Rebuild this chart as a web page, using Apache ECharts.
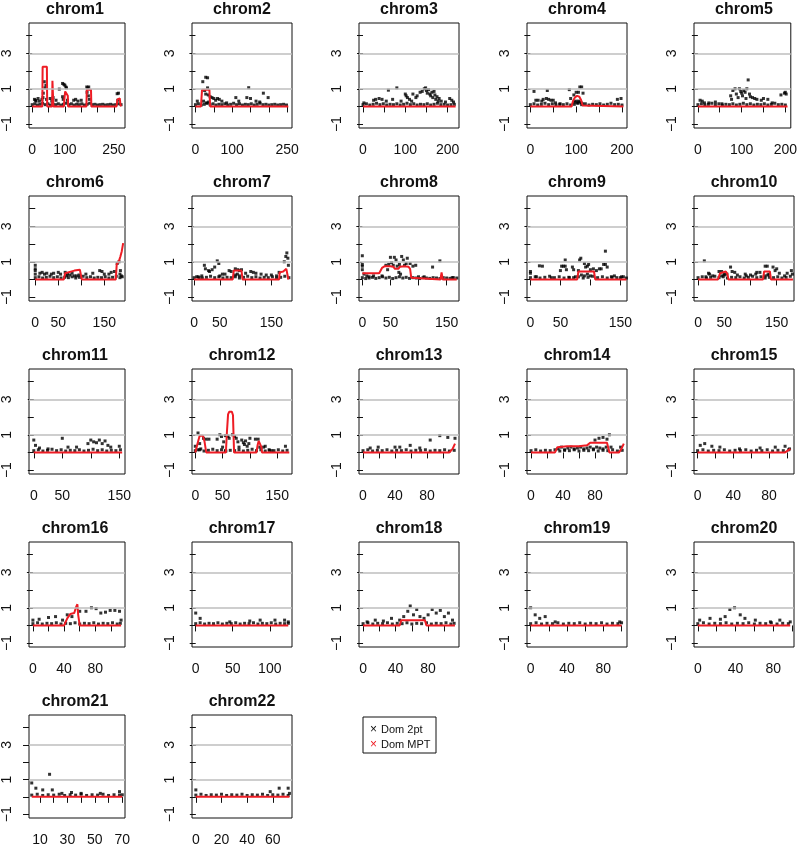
<!DOCTYPE html>
<html><head><meta charset="utf-8">
<script src="https://cdn.jsdelivr.net/npm/echarts@6/dist/echarts.min.js"></script>
<style>html,body{margin:0;padding:0;background:#fff}#c{width:800px;height:847px}</style>
</head><body><div id="c"></div>
<script>
const chromNames = ['chrom1','chrom2','chrom3','chrom4','chrom5','chrom6','chrom7','chrom8','chrom9','chrom10','chrom11','chrom12','chrom13','chrom14','chrom15','chrom16','chrom17','chrom18','chrom19','chrom20','chrom21','chrom22'];

const xAxisMin = [-9.7,-9.4,-9.5,-7.3,-8.9,-13.6,-4,-5.9,-5.7,-7.7,-8.4,-6,-5,-5,-4,-5,-5,-5,-4,-4,2,-3];
const xAxisMax = [284,263,227,211,212.5,195,190,172,161,183,160,177,120,120,108,118,130,118,106,102,72,75];
const xTickValues = [
 [0,50,100,150,200,250],[0,50,100,150,200,250],[0,50,100,150,200],[0,50,100,150,200],[0,50,100,150,200],
 [0,50,100,150],[0,50,100,150],[0,50,100,150],[0,50,100,150],[0,50,100,150],
 [0,50,100,150],[0,50,100,150],[0,20,40,60,80,100],[0,20,40,60,80,100],[0,20,40,60,80,100],
 [0,20,40,60,80,100],[0,50,100],[0,20,40,60,80,100],[0,20,40,60,80,100],[0,20,40,60,80,100],
 [10,20,30,40,50,60,70],[0,20,40,60]
];
const xTickLabels = [
 [0,100,250],[0,100,250],[0,100,200],[0,100,200],[0,100,200],
 [0,50,150],[0,50,150],[0,50,150],[0,50,150],[0,50,150],
 [0,50,150],[0,50,150],[0,40,80],[0,40,80],[0,40,80],
 [0,40,80],[0,50,100],[0,40,80],[0,40,80],[0,40,80],
 [10,30,50,70],[0,20,40,60]
];
const yTickValues = [-1,0,1,2,3,4];
const yTickLabels = [-1,1,3];
const refLines = [1,3];

// Dom 2pt (black crosses)
const dom2pt_chrom1 = [[7,0.4],[10,0.35],[12,0.3],[18,0.45],[22,0.3],[30,0.4],[33,0.5],[34,0.75],[37,1.4],[39,1.05],[42,1.2],[44,0.4],[55,0.45],[60,0.3],[64,0.5],[73,0.35],[83,0.98],[93,1.3],[97,1.25],[100,1.2],[103,1.1],[105,1.05],[93,0.55],[95,0.4],[108,0.35],[127,0.35],[133,0.4],[140,0.3],[150,0.35],[167,1.1],[170,1.05],[173,1.1],[168,0.8],[172,0.6],[175,0.4],[260,0.72],[264,0.75],[262,0.35],
 [0,.1],[8,.15],[16,.08],[24,.12],[32,.18],[40,.1],[48,.15],[56,.08],[64,.12],[72,.1],[80,.15],[88,.08],[96,.12],[104,.18],[112,.1],[120,.15],[128,.08],[136,.12],[144,.1],[152,.15],[160,.08],[168,.12],[176,.18],[184,.1],[192,.12],[200,.08],[208,.1],[216,.12],[224,.08],[232,.1],[240,.12],[248,.08],[256,.1],[264,.15],[272,.1]];
const dom2pt_chrom2 = [[5,0.3],[20,1.4],[28,1.65],[33,1.62],[25,0.9],[33,1.05],[28,0.7],[35,0.65],[40,0.55],[45,0.5],[50,0.45],[55,0.35],[60,0.45],[65,0.4],[72,0.3],[85,0.2],[110,0.5],[118,0.3],[145,1.06],[140,0.5],[150,0.45],[165,0.3],[185,0.75],[198,0.5],[175,0.25],[22,0.3],[30,0.2],[36,0.25],
 [0,.1],[8,.15],[16,.08],[24,.12],[32,.18],[40,.1],[48,.15],[56,.08],[64,.12],[72,.1],[80,.15],[88,.08],[96,.12],[104,.18],[112,.1],[120,.15],[128,.08],[136,.12],[144,.1],[152,.15],[160,.08],[168,.12],[176,.18],[184,.1],[192,.12],[200,.08],[208,.1],[216,.12],[224,.08],[232,.1],[240,.12],[248,.08]];
const dom2pt_chrom3 = [[2,0.2],[25,0.35],[30,0.4],[38,0.45],[45,0.4],[55,0.3],[60,0.92],[70,0.4],[80,1.05],[90,0.3],[100,0.7],[102,0.6],[105,0.5],[110,0.4],[115,0.3],[118,0.7],[125,0.5],[128,0.6],[135,0.8],[140,0.85],[145,1.0],[148,1.05],[150,0.9],[152,0.75],[155,0.95],[158,0.7],[160,0.6],[163,0.8],[165,0.5],[168,0.85],[170,0.65],[172,0.4],[175,0.55],[178,0.3],[180,0.45],[185,0.3],[195,0.25],[205,0.45],[210,0.35],[214,0.25],
 [0,.1],[8,.15],[16,.08],[24,.12],[32,.18],[40,.1],[48,.15],[56,.08],[64,.12],[72,.1],[80,.15],[88,.08],[96,.12],[104,.18],[112,.1],[120,.15],[128,.08],[136,.12],[144,.1],[152,.15],[160,.08],[168,.12],[176,.18],[184,.1],[192,.12],[200,.08],[208,.1],[216,.12]];
const dom2pt_chrom4 = [[8,0.85],[12,0.35],[17,0.35],[25,0.3],[28,0.4],[35,0.45],[37,0.9],[40,0.4],[45,0.35],[50,0.35],[55,0.2],[65,0.15],[85,0.95],[88,0.45],[95,0.65],[100,0.8],[105,0.8],[108,1.1],[112,1.1],[115,0.75],[96,0.25],[99,0.3],[102,0.2],[105,0.3],[108,0.25],[111,0.2],[114,0.15],[190,0.4],[198,0.45],
 [0,.1],[8,.15],[16,.08],[24,.12],[32,.18],[40,.1],[48,.15],[56,.08],[64,.12],[72,.1],[80,.15],[88,.08],[96,.12],[104,.18],[112,.1],[120,.15],[128,.08],[136,.12],[144,.1],[152,.15],[160,.08],[168,.12],[176,.18],[184,.1],[192,.12],[200,.08]];
const dom2pt_chrom5 = [[5,0.35],[10,0.3],[15,0.2],[25,0.2],[40,0.25],[55,0.15],[75,0.6],[77,0.4],[80,0.9],[85,1.0],[88,0.7],[92,0.5],[95,1.0],[98,0.85],[100,0.75],[102,0.6],[105,0.9],[108,0.8],[110,0.45],[112,1.0],[115,1.5],[118,0.7],[120,0.55],[125,0.5],[130,0.45],[135,0.4],[145,0.35],[150,0.45],[160,0.4],[170,0.2],[190,0.65],[198,0.75],[200,0.8],[202,0.7],
 [0,.1],[8,.15],[16,.08],[24,.12],[32,.18],[40,.1],[48,.15],[56,.08],[64,.12],[72,.1],[80,.15],[88,.08],[96,.12],[104,.18],[112,.1],[120,.15],[128,.08],[136,.12],[144,.1],[152,.15],[160,.08],[168,.12],[176,.18],[184,.1],[192,.12],[200,.08]];
const dom2pt_chrom6 = [[0,0.8],[0,0.6],[0,0.5],[0,0.3],[10,0.35],[15,0.4],[20,0.3],[25,0.35],[35,0.3],[40,0.35],[50,0.4],[55,0.3],[65,0.4],[70,0.3],[80,0.35],[90,0.2],[68,0.2],[75,0.25],[85,0.2],[95,0.25],[110,0.3],[125,0.35],[140,0.5],[145,0.45],[150,0.3],[160,0.3],[165,0.4],[172,0.45],[178,0.9],[182,1.0],[185,0.5],[187,0.2],[184,0.3],[189,0.15],
 [0,.1],[8,.15],[16,.08],[24,.12],[32,.18],[40,.1],[48,.15],[56,.08],[64,.12],[72,.1],[80,.15],[88,.08],[96,.12],[104,.18],[112,.1],[120,.15],[128,.08],[136,.12],[144,.1],[152,.15],[160,.08],[168,.12],[176,.18],[184,.1]];
const dom2pt_chrom7 = [[5,0.15],[10,0.1],[15,0.2],[20,0.8],[22,0.6],[28,0.5],[30,0.45],[35,0.55],[40,0.7],[45,1.05],[48,0.9],[50,0.2],[55,0.3],[60,0.3],[68,0.5],[72,0.45],[80,0.6],[85,0.55],[88,0.5],[92,0.55],[80,0.25],[84,0.3],[88,0.2],[100,0.35],[110,0.45],[115,0.4],[120,0.35],[130,0.3],[140,0.25],[150,0.25],[160,0.2],[165,0.4],[175,1.0],[178,1.3],[180,1.5],[182,1.2],[183,0.8],
 [0,.1],[8,.15],[16,.08],[24,.12],[32,.18],[40,.1],[48,.15],[56,.08],[64,.12],[72,.1],[80,.15],[88,.08],[96,.12],[104,.18],[112,.1],[120,.15],[128,.08],[136,.12],[144,.1],[152,.15],[160,.08],[168,.12],[176,.18],[184,.1]];
const dom2pt_chrom8 = [[0,1.34],[0,0.85],[0,0.75],[0,0.55],[3,0.3],[8,0.2],[12,0.15],[20,0.2],[35,0.2],[45,0.55],[50,1.25],[52,0.95],[57,1.25],[60,1.1],[65,0.4],[68,0.3],[70,1.3],[73,1.1],[78,0.9],[80,1.2],[85,0.9],[90,0.75],[95,0.8],[100,0.15],[110,0.15],[125,0.7],[138,1.05],[160,0.1],[42,0.8],[47,0.85],[55,0.8],[62,0.75],[66,0.85],[75,0.8],
 [0,.1],[6,.05],[12,.08],[18,.12],[24,.06],[30,.1],[36,.15],[42,.08],[48,.12],[54,.05],[60,.1],[66,.15],[72,.08],[78,.12],[84,.06],[90,.1],[96,.08],[102,.05],[108,.1],[114,.08],[120,.06],[126,.1],[132,.08],[138,.05],[144,.1],[150,.08],[156,.06],[162,.1],[168,.08]];
const dom2pt_chrom9 = [[0,0.45],[0,0.35],[10,0.15],[15,0.77],[20,0.75],[35,0.1],[50,0.5],[52,0.75],[55,0.75],[58,0.75],[58,1.1],[60,0.55],[65,0.1],[70,0.7],[72,0.55],[75,0.15],[80,0.5],[82,1.1],[84,1.2],[90,0.9],[92,0.7],[95,0.75],[97,0.85],[100,0.55],[105,0.6],[110,0.5],[115,0.6],[118,0.6],[122,0.85],[125,1.6],[125,0.85],[128,0.7],[135,0.15],[140,0.2],[150,0.1],[155,0.15],[85,0.25],[90,0.2],[95,0.3],[100,0.2],
 [0,.1],[8,.15],[16,.08],[24,.12],[32,.18],[40,.1],[48,.15],[56,.08],[64,.12],[72,.1],[80,.15],[88,.08],[96,.12],[104,.18],[112,.1],[120,.15],[128,.08],[136,.12],[144,.1],[152,.15],[160,.08]];
const dom2pt_chrom10 = [[12,1.05],[15,0.15],[20,0.35],[22,0.3],[28,0.2],[40,0.45],[45,0.45],[50,0.3],[55,0.3],[62,0.7],[65,0.45],[70,0.4],[75,0.25],[90,0.3],[92,0.2],[100,0.25],[110,0.3],[112,0.4],[118,0.4],[128,0.75],[132,0.75],[135,0.3],[143,0.7],[147,0.5],[150,0.6],[155,0.35],[165,0.2],[170,0.35],[178,0.5],[180,0.3],[45,0.2],[50,0.25],[128,0.2],[133,0.25],
 [0,.1],[8,.15],[16,.08],[24,.12],[32,.18],[40,.1],[48,.15],[56,.08],[64,.12],[72,.1],[80,.15],[88,.08],[96,.12],[104,.18],[112,.1],[120,.15],[128,.08],[136,.12],[144,.1],[152,.15],[160,.08],[168,.12],[176,.18]];
const dom2pt_chrom11 = [[0,0.7],[3,0.4],[10,0.25],[25,0.2],[50,0.8],[60,0.3],[75,0.3],[95,0.5],[100,0.7],[105,0.6],[110,0.55],[115,0.7],[120,0.5],[125,0.65],[130,0.4],[135,0.3],[150,0.35],
 [0,.1],[8,.15],[16,.08],[24,.12],[32,.18],[40,.1],[48,.15],[56,.08],[64,.12],[72,.1],[80,.15],[88,.08],[96,.12],[104,.18],[112,.1],[120,.15],[128,.08],[136,.12],[144,.1],[152,.15]];
const dom2pt_chrom12 = [[0,0.35],[5,1.1],[5,0.15],[8,0.5],[10,0.2],[15,0.8],[20,0.75],[25,0.75],[40,0.75],[45,1.0],[48,0.9],[52,0.6],[55,0.1],[50,0.3],[55,0.95],[58,0.95],[60,0.9],[62,0.8],[68,1.0],[72,0.9],[75,0.8],[78,0.6],[80,0.3],[85,0.7],[88,0.55],[90,0.45],[92,0.65],[95,0.35],[98,0.5],[100,0.8],[110,0.75],[115,0.75],[118,0.3],[125,0.3],[128,0.35],[135,0.15],[140,0.1],[165,0.35],
 [0,.1],[8,.15],[16,.08],[24,.12],[32,.18],[40,.1],[48,.15],[56,.08],[64,.12],[72,.1],[80,.15],[88,.08],[96,.12],[104,.18],[112,.1],[120,.15],[128,.08],[136,.12],[144,.1],[152,.15],[160,.08],[168,.12]];
const dom2pt_chrom13 = [[9,0.25],[19,0.3],[40,0.3],[46,0.3],[59,0.4],[71,0.25],[84,0.7],[96,0.95],[106,0.85],[115,0.8],
 [0,.1],[6,.15],[12,.08],[18,.12],[24,.1],[30,.15],[36,.08],[42,.12],[48,.1],[54,.15],[60,.08],[66,.12],[72,.1],[78,.15],[84,.08],[90,.12],[96,.1],[102,.15],[108,.08],[114,.12]];
const dom2pt_chrom14 = [[34,0.2],[38,0.3],[42,0.15],[46,0.25],[50,0.3],[54,0.2],[58,0.25],[62,0.3],[66,0.2],[70,0.25],[74,0.3],[78,0.2],[82,0.3],[86,0.25],[90,0.2],[94,0.3],[80,0.7],[85,0.8],[90,0.85],[95,0.75],[98,1.0],[100,0.3],[112,0.3],
 [0,.1],[6,.15],[12,.08],[18,.12],[24,.1],[30,.15],[36,.08],[42,.12],[48,.1],[54,.15],[60,.08],[66,.12],[72,.1],[78,.15],[84,.08],[90,.12],[96,.1],[102,.15],[108,.08],[114,.12]];
const dom2pt_chrom15 = [[3,0.4],[8,0.5],[16,0.35],[25,0.3],[47,0.2],[70,0.25],[87,0.3],[98,0.35],[103,0.2],
 [0,.1],[6,.15],[12,.08],[18,.12],[24,.1],[30,.15],[36,.08],[42,.12],[48,.1],[54,.15],[60,.08],[66,.12],[72,.1],[78,.15],[84,.08],[90,.12],[96,.1],[102,.15]];
const dom2pt_chrom16 = [[0,0.3],[8,0.35],[20,0.45],[29,0.5],[38,0.3],[44,0.6],[50,0.5],[60,0.8],[68,0.8],[75,1.0],[81,0.95],[87,0.7],[93,0.75],[99,0.85],[105,0.85],[111,0.8],[113,0.3],
 [0,.1],[6,.15],[12,.08],[18,.12],[24,.1],[30,.15],[36,.08],[42,.12],[48,.1],[54,.15],[60,.08],[66,.12],[72,.1],[78,.15],[84,.08],[90,.12],[96,.1],[102,.15],[108,.08],[112,.12]];
const dom2pt_chrom17 = [[0,0.7],[6,0.4],[46,0.2],[73,0.25],[87,0.3],[107,0.3],[120,0.3],[125,0.2],
 [0,.1],[6,.15],[12,.08],[18,.12],[24,.1],[30,.15],[36,.08],[42,.12],[48,.1],[54,.15],[60,.08],[66,.12],[72,.1],[78,.15],[84,.08],[90,.12],[96,.1],[102,.15],[108,.08],[114,.12],[120,.1],[125,.12]];
const dom2pt_chrom18 = [[5,0.2],[15,0.3],[25,0.25],[35,0.4],[45,0.3],[50,0.5],[55,0.8],[58,1.1],[62,0.6],[66,0.9],[70,0.5],[75,0.4],[80,0.6],[85,0.9],[90,0.7],[95,0.85],[100,0.5],[105,0.7],[110,0.3],
 [0,.1],[6,.15],[12,.08],[18,.12],[24,.1],[30,.15],[36,.08],[42,.12],[48,.1],[54,.15],[60,.08],[66,.12],[72,.1],[78,.15],[84,.08],[90,.12],[96,.1],[102,.15],[108,.08],[112,.12]];
const dom2pt_chrom19 = [[0,1.0],[5,0.6],[10,0.4],[16,0.5],[27,0.2],[98,0.2],
 [0,.1],[6,.15],[12,.08],[18,.12],[24,.1],[30,.15],[36,.08],[42,.12],[48,.1],[54,.15],[60,.08],[66,.12],[72,.1],[78,.15],[84,.08],[90,.12],[96,.1],[100,.15]];
const dom2pt_chrom20 = [[2,0.3],[13,0.4],[24,0.35],[29,0.5],[34,0.9],[39,1.0],[45,0.6],[50,0.4],[61,0.3],[77,0.2],[87,0.3],[98,0.2],
 [0,.1],[6,.15],[12,.08],[18,.12],[24,.1],[30,.15],[36,.08],[42,.12],[48,.1],[54,.15],[60,.08],[66,.12],[72,.1],[78,.15],[84,.08],[90,.12],[96,.1]];
const dom2pt_chrom21 = [[4,0.8],[7,0.5],[12,0.4],[17,1.3],[19,0.4],[26,0.2],[33,0.25],[40,0.2],[54,0.2],[68,0.3],
 [4,.1],[8,.15],[12,.08],[16,.12],[20,.1],[24,.15],[28,.08],[32,.12],[36,.1],[40,.15],[44,.08],[48,.12],[52,.1],[56,.15],[60,.08],[64,.12],[68,.1],[70,.12]];
const dom2pt_chrom22 = [[0,0.4],[58,0.3],[65,0.5],[72,0.5],[73,0.2],
 [0,.1],[4,.15],[8,.08],[12,.12],[16,.1],[20,.15],[24,.08],[28,.12],[32,.1],[36,.15],[40,.08],[44,.12],[48,.1],[52,.15],[56,.08],[60,.12],[64,.1],[68,.15],[72,.08]];

// Dom MPT (red line)
const mpt_chrom1 = [[0,0],[31,0],[32,2.25],[45,2.25],[46,0],[61,0],[62,1.45],[64,1.45],[65,0],[97,0],[99,0.5],[101,0.85],[104,0.95],[107,0.9],[109,0.6],[110,0],[166,0],[167,0.95],[180,0.95],[181,0],[258,0],[261,0.4],[268,0.45],[270,0.1],[272,0]];
const mpt_chrom2 = [[0,0],[15,0],[18,0.95],[38,0.95],[40,0],[253,0]];
const mpt_chrom3 = [[0,0],[219,0]];
const mpt_chrom4 = [[0,0],[90,0],[93,0.3],[97,0.5],[102,0.6],[107,0.55],[111,0.35],[114,0.05],[116,0],[203,0]];
const mpt_chrom5 = [[0,0],[205,0]];
const mpt_chrom6 = [[0,0],[62,0],[65,0.35],[68,0.45],[85,0.5],[97,0.55],[99,0.5],[101,0],[175,0],[177,0.85],[180,0.9],[182,1.05],[184,1.0],[185,1.3],[186,1.2],[188,1.6],[189,1.5],[191,2.05]];
const mpt_chrom7 = [[0,0],[75,0],[77,0.5],[92,0.5],[94,0],[165,0],[166,0.4],[173,0.45],[179,0.6],[182,0.6],[183,0],[184,0]];
const mpt_chrom8 = [[0,0.35],[30,0.35],[35,0.65],[40,0.75],[50,0.75],[55,0.72],[58,0.6],[64,0.6],[67,0.72],[75,0.75],[82,0.72],[85,0.6],[87,0.1],[89,0],[139,0],[141,0.4],[143,0],[168,0]];
const mpt_chrom9 = [[0,0],[78,0],[80,0.45],[106,0.45],[108,0],[160,0]];
const mpt_chrom10 = [[0,0],[38,0],[42,0.35],[45,0.45],[53,0.45],[56,0.3],[58,0],[124,0],[126,0.45],[137,0.45],[139,0],[181,0]];
const mpt_chrom11 = [[0,0],[155,0]];
const mpt_chrom12 = [[0,0],[3,0],[5,0.6],[8,0.94],[14,0.94],[17,0.6],[20,0],[56,0],[58,1.2],[60,2.15],[62,2.3],[67,2.3],[69,2.1],[70,1.0],[71,0],[112,0],[114,0.4],[116,0.65],[119,0.65],[121,0.3],[122,0],[172,0]];
const mpt_chrom13 = [[0,0],[108,0],[112,0.2],[115,0.5]];
const mpt_chrom14 = [[0,0],[30,0],[33,0.3],[45,0.35],[60,0.35],[70,0.4],[74,0.55],[95,0.55],[98,0],[110,0],[113,0.2],[116,0.5]];
const mpt_chrom15 = [[0,0],[98,0],[104,0.2]];
const mpt_chrom16 = [[0,0],[40,0],[44,0.4],[48,0.65],[53,0.7],[55,1.0],[57,1.2],[58,0.6],[60,0],[113,0]];
const mpt_chrom17 = [[0,0],[125,0]];
const mpt_chrom18 = [[0,0],[45,0],[47,0.3],[76,0.3],[78,0],[113,0]];
const mpt_chrom19 = [[0,0],[100,0]];
const mpt_chrom20 = [[0,0],[98,0]];
const mpt_chrom21 = [[4,0],[70,0]];
const mpt_chrom22 = [[0,0],[73,0]];

const dom2ptSeries = [dom2pt_chrom1,dom2pt_chrom2,dom2pt_chrom3,dom2pt_chrom4,dom2pt_chrom5,dom2pt_chrom6,dom2pt_chrom7,dom2pt_chrom8,dom2pt_chrom9,dom2pt_chrom10,dom2pt_chrom11,dom2pt_chrom12,dom2pt_chrom13,dom2pt_chrom14,dom2pt_chrom15,dom2pt_chrom16,dom2pt_chrom17,dom2pt_chrom18,dom2pt_chrom19,dom2pt_chrom20,dom2pt_chrom21,dom2pt_chrom22];
const mptSeries = [mpt_chrom1,mpt_chrom2,mpt_chrom3,mpt_chrom4,mpt_chrom5,mpt_chrom6,mpt_chrom7,mpt_chrom8,mpt_chrom9,mpt_chrom10,mpt_chrom11,mpt_chrom12,mpt_chrom13,mpt_chrom14,mpt_chrom15,mpt_chrom16,mpt_chrom17,mpt_chrom18,mpt_chrom19,mpt_chrom20,mpt_chrom21,mpt_chrom22];

// layout
const colLeft = [25,192,359,527,694];
const rowTop = [23,196,369,542,715];
const boxW = 100, boxH = 105;
const FONT = 'Liberation Sans, Arial, sans-serif';
const RED = '#ee1c24';

const grids=[], xAxes=[], yAxes=[], series=[], titles=[];
chromNames.forEach((name,i)=>{
  const c=i%5, r=Math.floor(i/5);
  const left=colLeft[c], top=rowTop[r];
  grids.push({left:left, top:top, width:boxW, height:boxH, show:true, borderColor:'#111', borderWidth:1, backgroundColor:'transparent', containLabel:false});
  xAxes.push({type:'value', gridIndex:i, min:xAxisMin[i], max:xAxisMax[i],
    axisLine:{show:false}, splitLine:{show:false},
    axisTick:{show:true, customValues:xTickValues[i], length:6, inside:false, lineStyle:{color:'#111', width:1}},
    axisLabel:{customValues:xTickLabels[i], margin:15, fontSize:14, color:'#111', fontFamily:FONT, hideOverlap:false}});
  yAxes.push({type:'value', gridIndex:i, min:-1.22, max:4.72,
    axisLine:{show:false}, splitLine:{show:false},
    axisTick:{show:true, customValues:yTickValues, length:6, lineStyle:{color:'#111', width:1}},
    axisLabel:{customValues:yTickLabels, rotate:90, margin:15, fontSize:14, color:'#111', fontFamily:FONT,
      formatter:v=> v<0 ? '\u2212'+Math.abs(v) : String(v)}});
  series.push({type:'line', xAxisIndex:i, yAxisIndex:i, data:[], silent:true, z:1,
    markLine:{silent:true, symbol:'none', animation:false, label:{show:false},
      lineStyle:{color:'#bebebe', width:1.6, type:'solid'},
      data: refLines.map(v=>({yAxis:v}))}});
  series.push({type:'scatter', name:'Dom 2pt', xAxisIndex:i, yAxisIndex:i, data:dom2ptSeries[i],
    symbol:'rect', symbolSize:3, itemStyle:{color:'#000'}, silent:true, z:2});
  series.push({type:'line', name:'Dom MPT', xAxisIndex:i, yAxisIndex:i, data:mptSeries[i],
    showSymbol:false, symbol:'none', lineStyle:{color:RED, width:2}, silent:true, z:3});
  titles.push({text:name, left:left+boxW/2, top:top-21, textAlign:'center', padding:0,
    textStyle:{fontSize:16, fontWeight:'bold', color:'#111', fontFamily:FONT}});
});

const option = {
  animation:false,
  backgroundColor:'#fff',
  title:titles,
  grid:grids, xAxis:xAxes, yAxis:yAxes, series:series,
  graphic:[
    {type:'rect', shape:{x:363, y:717, width:73, height:36}, style:{fill:'#fff', stroke:'#111', lineWidth:1}},
    {type:'text', left:370, top:724, style:{text:'\u00d7', fill:'#111', font:'12px '+FONT}},
    {type:'text', left:381, top:724, style:{text:'Dom 2pt', fill:'#111', font:'11px '+FONT}},
    {type:'text', left:370, top:739, style:{text:'\u00d7', fill:RED, font:'12px '+FONT}},
    {type:'text', left:381, top:739, style:{text:'Dom MPT', fill:'#111', font:'11px '+FONT}}
  ]
};
const chart = echarts.init(document.getElementById('c'), null, {renderer:'canvas'});
chart.setOption(option);
</script></body></html>
